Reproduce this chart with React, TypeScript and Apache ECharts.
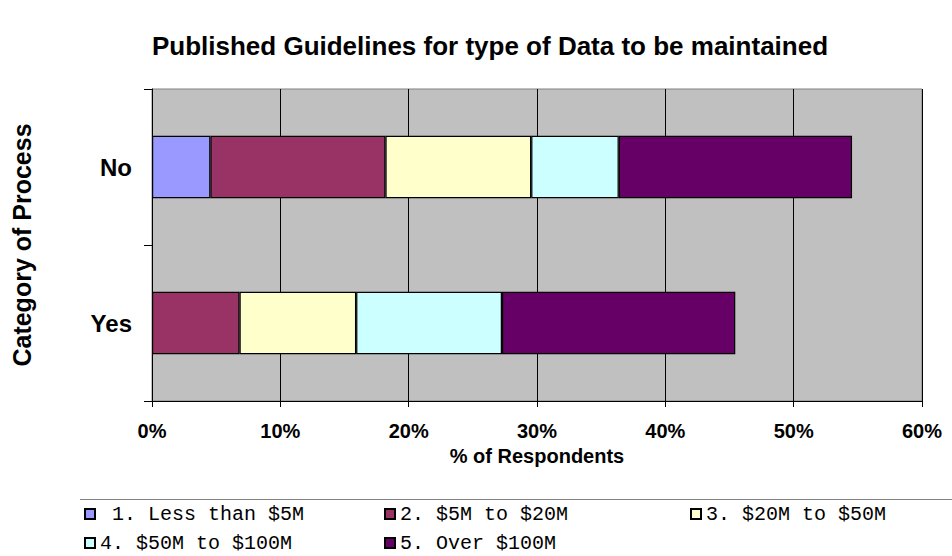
import React, { useEffect, useRef } from "react";
import * as echarts from "echarts";

const titleText = "Published Guidelines for type of Data to be maintained";
const categories = ["Yes", "No"];
const seriesNames = [
  "1. Less than $5M",
  "2. $5M to $20M",
  "3. $20M to $50M",
  "4. $50M to $100M",
  "5. Over $100M",
];
// values per category [Yes, No], in % of respondents
const lessThan5M = [0, 4.55];
const from5To20M = [6.82, 13.64];
const from20To50M = [9.09, 11.36];
const from50To100M = [11.36, 6.82];
const over100M = [18.18, 18.18];
const xTicks = [0, 10, 20, 30, 40, 50, 60];

const colors = ["#9999FF", "#993366", "#FFFFCC", "#CCFFFF", "#660066"];

export default function App() {
  const ref = useRef<HTMLDivElement>(null);
  useEffect(() => {
    if (!ref.current) return;
    const chart = echarts.init(ref.current, null, { renderer: "svg" });
    const values = [lessThan5M, from5To20M, from20To50M, from50To100M, over100M];
    const sans = "'Liberation Sans', Arial, sans-serif";
    const mono = "'Liberation Mono', 'Courier New', monospace";
    const legendPos = [
      { left: 84, top: 504 },
      { left: 384, top: 504 },
      { left: 690, top: 504 },
      { left: 84, top: 533 },
      { left: 384, top: 533 },
    ];
    chart.setOption({
      animation: false,
      backgroundColor: "#ffffff",
      title: {
        text: titleText,
        left: 490,
        top: 33,
        textAlign: "center",
        padding: 0,
        textStyle: { fontFamily: sans, fontWeight: "bold", fontSize: 26, color: "#000" },
      },
      grid: {
        left: 152,
        right: 30,
        top: 89,
        bottom: 155,
        show: true,
        backgroundColor: "#C0C0C0",
        borderColor: "#808080",
        borderWidth: 1,
      },
      legend: seriesNames.map((n, i) => ({
        data: [n],
        left: legendPos[i].left,
        top: legendPos[i].top,
        padding: 0,
        itemWidth: 10,
        itemHeight: 10,
        icon: "rect",
        selectedMode: false,
        formatter: (name: string) => (name === seriesNames[0] ? " " + name : name),
        textStyle: { fontFamily: mono, fontSize: 20, color: "#000", lineHeight: 20 },
      })),
      xAxis: {
        type: "value",
        min: xTicks[0],
        max: xTicks[xTicks.length - 1],
        interval: 10,
        name: "% of Respondents",
        nameLocation: "middle",
        nameGap: 43,
        nameTextStyle: { fontFamily: sans, fontWeight: "bold", fontSize: 20, color: "#000" },
        axisLine: { show: true, lineStyle: { color: "#000", width: 1 } },
        axisTick: { show: true, length: 6, lineStyle: { color: "#000" } },
        axisLabel: {
          formatter: "{value}%",
          margin: 20,
          fontFamily: sans,
          fontWeight: "bold",
          fontSize: 20,
          color: "#000",
        },
        splitLine: { show: true, lineStyle: { color: "#000", width: 1 } },
      },
      yAxis: {
        type: "category",
        data: categories,
        name: "Category of Process",
        nameLocation: "middle",
        nameGap: 118,
        nameRotate: 90,
        nameTextStyle: { fontFamily: sans, fontWeight: "bold", fontSize: 25, color: "#000" },
        axisLine: { show: true, lineStyle: { color: "#000", width: 1 } },
        axisTick: { show: true, length: 8, lineStyle: { color: "#000" } },
        axisLabel: {
          margin: 20,
          fontFamily: sans,
          fontWeight: "bold",
          fontSize: 24,
          color: "#000",
        },
        splitLine: { show: false },
      },
      series: seriesNames.map((n, i) => ({
        name: n,
        type: "bar",
        stack: "total",
        barCategoryGap: "60%",
        data: values[i].map((v) => (v === 0 ? null : v)),
        itemStyle: { color: colors[i], borderColor: "#000", borderWidth: 1.2 },
        emphasis: { disabled: true },
      })),
      graphic: [
        {
          type: "line",
          shape: { x1: 80, y1: 499.5, x2: 952, y2: 499.5 },
          style: { stroke: "#808080", lineWidth: 1 },
        },
      ],
    });
    return () => chart.dispose();
  }, []);
  return (
    <div
      ref={ref}
      style={{ position: "fixed", left: 0, top: 0, width: 952, height: 556 }}
    />
  );
}
